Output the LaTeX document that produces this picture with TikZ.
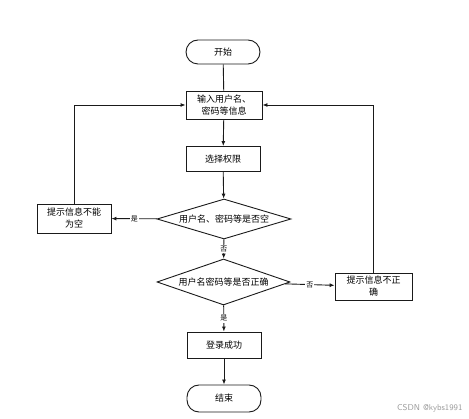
\documentclass[tikz,border=0pt]{standalone}
\usepackage{fontspec}
\newfontfamily\cjk{Noto Sans CJK SC}
\usetikzlibrary{arrows.meta,shapes.geometric}
\definecolor{lineC}{HTML}{1A1A1A}
\definecolor{markC}{HTML}{9A9A9A}

\tikzset{
  box/.style={draw=lineC, line width=0.9pt, fill=white, align=center, inner sep=1pt, font=\cjk\fontsize{9}{12}\selectfont},
  term/.style={box, rounded corners=12pt},
  check/.style={draw=lineC, line width=0.9pt, fill=white, diamond, aspect=3.3, inner sep=0pt, font=\cjk\fontsize{9}{12}\selectfont},
  arr/.style={draw=lineC, line width=0.9pt, -{Latex[length=5pt,width=4pt]}},
  plain/.style={draw=lineC, line width=0.9pt},
  lbl/.style={fill=white, inner sep=1pt, font=\cjk\fontsize{7}{8}\selectfont}
}

\begin{document}
\begin{tikzpicture}[x=1pt, y=-1pt]
\useasboundingbox (0,0) rectangle (469,419);
% nodes
\node[term, minimum width=74pt, minimum height=24pt] (start) at (223,52) {开始};
\node[box, minimum width=76pt, minimum height=28pt] (inp) at (224,105) {输入用户名、\\密码等信息};
\node[box, minimum width=74pt, minimum height=25pt] (role) at (223,159) {选择权限};
\node[check, minimum width=134pt, minimum height=40pt] (chk1) at (224,219) {用户名、密码等是否空};
\node[check, minimum width=133pt, minimum height=46pt] (chk2) at (223.5,282) {用户名密码等是否正确};
\node[box, minimum width=74pt, minimum height=29pt] (empty) at (74,218.5) {提示信息不能\\为空};
\node[box, minimum width=77pt, minimum height=27pt] (wrong) at (373.5,286.5) {提示信息不正\\确};
\node[box, minimum width=74pt, minimum height=26pt] (ok) at (224,345) {登录成功};
\node[term, minimum width=74pt, minimum height=27pt] (stop) at (224,398.5) {结束};
% connectors
\draw[plain] (start) -- (inp);
\draw[arr] (inp) -- (role);
\draw[arr] (role) -- (chk1);
\draw[arr] (chk1) -- node[lbl] {是} (empty);
\draw[arr] (chk1) -- node[lbl] {否} (chk2);
\draw[arr] (chk2) -- node[lbl] {否} (wrong);
\draw[arr] (chk2) -- node[lbl] {是} (ok);
\draw[arr] (ok) -- (stop);
\draw[arr] (empty.north) |- (inp.west);
\draw[arr] (wrong.north) |- (inp.east);
% watermark
\node[text=markC, font=\sffamily\fontsize{8.5}{10}\selectfont, anchor=east] (mark) at (466,408) {CSDN @kybs1991};
\end{tikzpicture}
\end{document}
